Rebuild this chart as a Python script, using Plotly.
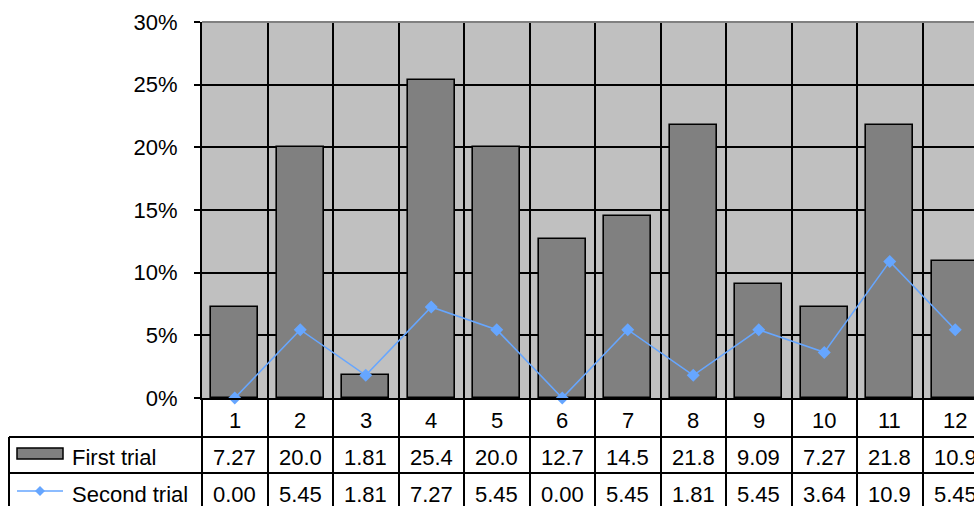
import plotly.graph_objects as go

# Trial results per item (percent)
categories = [1, 2, 3, 4, 5, 6, 7, 8, 9, 10, 11, 12]
first_trial = [7.27, 20.0, 1.81, 25.4, 20.0, 12.7, 14.5, 21.8, 9.09, 7.27, 21.8, 10.9]
second_trial = [0.00, 5.45, 1.81, 7.27, 5.45, 0.00, 5.45, 1.81, 5.45, 3.64, 10.9, 5.45]
first_labels = ["7.27", "20.0", "1.81", "25.4", "20.0", "12.7", "14.5", "21.8", "9.09", "7.27", "21.8", "10.9"]
second_labels = ["0.00", "5.45", "1.81", "7.27", "5.45", "0.00", "5.45", "1.81", "5.45", "3.64", "10.9", "5.45"]
y_ticks = [0, 5, 10, 15, 20, 25, 30]

W, H = 974, 506
ML, MR, MT, MB = 202, 0, 22, 108
plot_w = W - ML - MR
plot_h = H - MT - MB
cell_px = 65.5  # width of one category column
x_max = 0.5 + plot_w / cell_px

FONT = "Liberation Sans, Arial, sans-serif"
FS = 22
BAR_C = "#808080"
LINE_C = "#66A6FF"


def py(pix):
    """pixel row (from top) -> paper y"""
    return (H - MB - pix) / plot_h


def px(pix):
    """pixel column (from left) -> paper x"""
    return (pix - ML) / plot_w


fig = go.Figure()
fig.add_trace(go.Bar(
    x=categories, y=first_trial, width=0.72, name="First trial",
    marker=dict(color=BAR_C, line=dict(color="black", width=1.6)),
))
fig.add_trace(go.Scatter(
    x=categories, y=second_trial, mode="lines+markers", name="Second trial",
    line=dict(color=LINE_C, width=1.6),
    marker=dict(symbol="diamond", size=10, color=LINE_C),
    cliponaxis=False,
))

shapes = []
annotations = []

# top border of the plot area
shapes.append(dict(type="line", xref="paper", yref="paper", x0=0, x1=1, y0=1, y1=1,
                   line=dict(color="#808080", width=2)))

# data table rows
row1_bot = py(437)
row2_bot = py(473)
table_left = px(9)
for yy in (row1_bot, row2_bot):
    shapes.append(dict(type="line", xref="paper", yref="paper", x0=table_left, x1=1,
                       y0=yy, y1=yy, line=dict(color="black", width=2)))
shapes.append(dict(type="line", xref="paper", yref="paper", x0=table_left, x1=table_left,
                   y0=row1_bot, y1=py(520), line=dict(color="black", width=2)))

row_cat_y = py(420)
row1_y = py(457)
row2_y = py(494)
cell_font = dict(size=FS, color="black", family=FONT)
for c, a, b in zip(categories, first_labels, second_labels):
    for txt, yy in ((str(c), row_cat_y), (a, row1_y), (b, row2_y)):
        annotations.append(dict(x=c, y=yy, xref="x", yref="paper", text=txt,
                                xanchor="center", yanchor="middle",
                                showarrow=False, font=cell_font))

# legend keys in the table's label column
shapes.append(dict(type="rect", xref="paper", yref="paper", x0=px(17), x1=px(63),
                   y0=py(459), y1=py(448), fillcolor=BAR_C, line=dict(color="black", width=1.5)))
shapes.append(dict(type="line", xref="paper", yref="paper", x0=px(17), x1=px(63),
                   y0=py(491), y1=py(491), line=dict(color=LINE_C, width=1.5)))
shapes.append(dict(type="path", xref="paper", yref="paper",
                   path=f"M {px(40)},{py(486)} L {px(45)},{py(491)} L {px(40)},{py(496)} L {px(35)},{py(491)} Z",
                   fillcolor=LINE_C, line=dict(color=LINE_C, width=0)))
for txt, yy in (("First trial", row1_y), ("Second trial", row2_y)):
    annotations.append(dict(x=px(70), y=yy, xref="paper", yref="paper", text=txt,
                            xanchor="left", yanchor="middle", showarrow=False,
                            font=cell_font))

fig.update_layout(
    width=W, height=H,
    margin=dict(l=ML, r=MR, t=MT, b=MB, pad=0),
    paper_bgcolor="white", plot_bgcolor="#C0C0C0",
    showlegend=False,
    font=dict(family=FONT, size=FS, color="black"),
    shapes=shapes, annotations=annotations,
    bargap=0,
)
fig.update_xaxes(
    range=[0.5, x_max], tickmode="array",
    tickvals=[c + 0.5 for c in [0] + categories],
    showticklabels=False, ticks="outside", ticklen=MB, tickwidth=2, tickcolor="black",
    showgrid=True, gridcolor="black", gridwidth=2,
    showline=True, linecolor="black", linewidth=2, zeroline=False,
)
fig.update_yaxes(
    range=[0, 30], tickmode="array", tickvals=y_ticks,
    ticktext=[f"{v}%" for v in y_ticks],
    ticks="outside", ticklen=6, tickwidth=2, tickcolor="black",
    ticklabelstandoff=12,
    showgrid=True, gridcolor="black", gridwidth=2,
    showline=True, linecolor="black", linewidth=2, zeroline=False,
    tickfont=dict(size=FS, family=FONT, color="black"),
)

fig.write_html("out.html")
